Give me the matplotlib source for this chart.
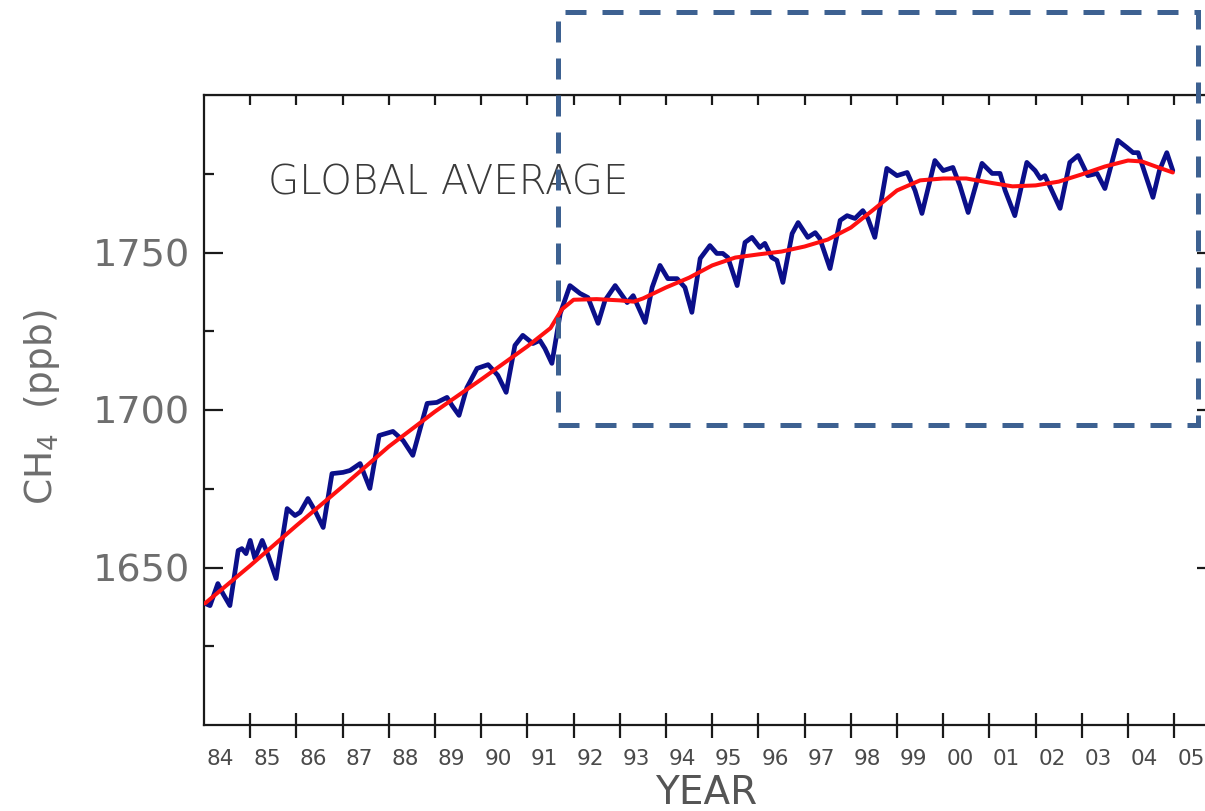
import matplotlib
matplotlib.use("Agg")
import matplotlib.pyplot as plt
from matplotlib.patches import Rectangle

# ---- data ----
blue_years = [1984.02, 1984.13, 1984.30, 1984.41, 1984.56, 1984.74, 1984.82, 1984.91, 1985.00, 1985.10,
              1985.26, 1985.39, 1985.56, 1985.80, 1985.97, 1986.08, 1986.25, 1986.40, 1986.58, 1986.77,
              1987.01, 1987.16, 1987.38, 1987.48, 1987.59, 1987.79, 1988.09, 1988.31, 1988.52, 1988.83,
              1989.04, 1989.26, 1989.37, 1989.52, 1989.69, 1989.91, 1990.15, 1990.36, 1990.54, 1990.73,
              1990.90, 1991.12, 1991.27, 1991.38, 1991.53, 1991.71, 1991.92, 1992.14, 1992.31, 1992.53,
              1992.68, 1992.90, 1993.16, 1993.29, 1993.55, 1993.70, 1993.87, 1994.04, 1994.24, 1994.41,
              1994.56, 1994.74, 1994.95, 1995.10, 1995.23, 1995.34, 1995.54, 1995.71, 1995.86, 1996.03,
              1996.14, 1996.29, 1996.40, 1996.53, 1996.73, 1996.86, 1997.07, 1997.23, 1997.33, 1997.55,
              1997.77, 1997.92, 1998.09, 1998.26, 1998.37, 1998.52, 1998.78, 1999.00, 1999.22, 1999.39,
              1999.54, 1999.82, 2000.00, 2000.21, 2000.36, 2000.54, 2000.84, 2001.06, 2001.23, 2001.34,
              2001.55, 2001.81, 2001.99, 2002.10, 2002.20, 2002.35, 2002.53, 2002.74, 2002.92, 2003.13,
              2003.33, 2003.50, 2003.78, 2003.98, 2004.11, 2004.22, 2004.37, 2004.54, 2004.68, 2004.84,
              2004.97]
blue_ch4 = [1638.6, 1637.9, 1644.9, 1641.7, 1637.9, 1655.4, 1656.0, 1654.4, 1658.6, 1652.9,
            1658.6, 1653.8, 1646.5, 1668.7, 1666.5, 1667.5, 1671.9, 1668.1, 1662.7, 1679.8,
            1680.2, 1680.8, 1683.0, 1679.2, 1675.1, 1691.9, 1693.2, 1690.3, 1685.6, 1702.1,
            1702.4, 1704.0, 1701.4, 1698.3, 1707.1, 1713.2, 1714.4, 1711.0, 1705.6, 1720.5,
            1723.7, 1721.1, 1722.1, 1719.5, 1714.8, 1730.6, 1739.5, 1737.0, 1735.7, 1727.5,
            1734.8, 1739.5, 1734.1, 1736.3, 1727.8, 1738.9, 1745.9, 1741.7, 1741.7, 1738.9,
            1731.0, 1748.1, 1752.2, 1749.7, 1749.7, 1748.4, 1739.5, 1753.2, 1754.8, 1751.6,
            1752.9, 1748.4, 1747.5, 1740.5, 1756.0, 1759.5, 1754.8, 1756.3, 1754.4, 1744.9,
            1760.2, 1761.7, 1760.8, 1763.3, 1760.8, 1754.8, 1776.7, 1774.4, 1775.4, 1769.7,
            1762.4, 1779.2, 1776.0, 1777.0, 1771.3, 1762.7, 1778.3, 1775.1, 1775.1, 1769.7,
            1761.7, 1778.6, 1776.0, 1773.5, 1774.4, 1769.7, 1764.0, 1778.6, 1780.8, 1774.4,
            1775.1, 1770.3, 1785.6, 1783.3, 1781.7, 1781.7, 1775.0, 1767.5, 1776.0, 1781.7,
            1776.0]

red_years = [1984.02, 1985.0, 1986.0, 1987.0, 1988.0, 1989.0, 1990.0, 1991.0, 1991.5, 1991.75,
             1992.0, 1992.5, 1993.0, 1993.3, 1993.5, 1994.0, 1994.5, 1995.0, 1995.5, 1996.0,
             1996.5, 1997.0, 1997.5, 1998.0, 1998.5, 1999.0, 1999.5, 2000.0, 2000.5, 2001.0,
             2001.5, 2002.0, 2002.5, 2003.0, 2003.5, 2004.0, 2004.3, 2004.6, 2004.97]
red_ch4 = [1638.6, 1650.6, 1663.3, 1675.7, 1688.4, 1699.5, 1709.7, 1720.2, 1726.0, 1732.0,
           1735.0, 1735.2, 1734.8, 1734.4, 1735.4, 1738.9, 1742.0, 1745.9, 1748.4, 1749.4,
           1750.3, 1751.9, 1754.1, 1757.9, 1763.7, 1769.7, 1772.9, 1773.5, 1773.5, 1772.2,
           1771.0, 1771.3, 1772.5, 1774.8, 1777.3, 1779.2, 1778.9, 1777.3, 1775.4]

year_ticks = list(range(1985, 2006))
year_label_years = list(range(1984, 2006))
year_labels = ['84', '85', '86', '87', '88', '89', '90', '91', '92', '93', '94',
               '95', '96', '97', '98', '99', '00', '01', '02', '03', '04', '05']
y_major = [1650, 1700, 1750]
y_minor = [1625, 1675, 1725, 1775]

# ---- figure ----
W, H = 1205, 811
fig = plt.figure(figsize=(W / 100, H / 100), dpi=100)
ax_left, ax_right, ax_top, ax_bot = 204, 1207, 95, 725
ax = fig.add_axes([ax_left / W, (H - ax_bot) / H, (ax_right - ax_left) / W, (ax_bot - ax_top) / H])

ax.plot(blue_years, blue_ch4, color='#0b0f8a', lw=3.4, solid_joinstyle='round',
        solid_capstyle='round', zorder=3)
ax.plot(red_years, red_ch4, color='#ff1010', lw=2.9, solid_joinstyle='round',
        solid_capstyle='round', zorder=4)

ax.set_xlim(1984.0, 2005.71)
ax.set_ylim(1600, 1800)

spine_col = '#1a1a1a'
for s in ax.spines.values():
    s.set_linewidth(1.6)
    s.set_color(spine_col)

# x ticks: inout at bottom, labels centred in the year intervals
ax.set_xticks(year_ticks)
ax.set_xticklabels([])
ax.tick_params(axis='x', which='major', direction='inout', length=18, width=1.6,
               color=spine_col, top=False)
ax.set_xticks([y + 0.36 for y in year_label_years], minor=True)
ax.set_xticklabels(year_labels, minor=True)
ax.tick_params(axis='x', which='minor', length=0, pad=17, labelsize=15.5, labelcolor='#4a4a4a')

# y ticks
ax.set_yticks(y_major)
ax.set_yticks(y_minor, minor=True)
ax.tick_params(axis='y', which='major', direction='in', length=13.5, width=1.6, color=spine_col,
               pad=10, labelsize=27.5, labelcolor='#6e6e6e')
ax.tick_params(axis='y', which='minor', direction='in', length=7, width=1.6, color=spine_col)

# top ticks (inward) and right ticks (inward)
top = ax.secondary_xaxis('top')
top.set_xticks(year_ticks)
top.set_xticklabels([])
top.tick_params(direction='in', length=7, width=1.6, color=spine_col)
right = ax.secondary_yaxis('right')
right.set_yticks(y_major)
right.set_yticklabels([])
right.tick_params(direction='in', length=7, width=1.6, color=spine_col)

ax.set_ylabel('CH$_4$  (ppb)', fontsize=27, color='#6e6e6e')
ax.yaxis.set_label_coords(-0.142, 0.505)
ax.set_xlabel('YEAR', fontsize=28, color='#555555')
ax.xaxis.set_label_coords(0.5005, -0.078)

ax.text(0.064, 0.860, 'GLOBAL AVERAGE', transform=ax.transAxes, fontsize=29,
        color='#3a3a3a', ha='left', va='center', fontweight='light')

# dashed highlight box (figure coordinates)
bx0, bx1, by_top, by_bot = 558, 1198, 12, 425
rect = Rectangle((bx0 / W, (H - by_bot) / H), (bx1 - bx0) / W, (by_bot - by_top) / H,
                 transform=fig.transFigure, fill=False, edgecolor='#3d6191', lw=3.6,
                 linestyle=(0, (4.2, 3.2)), zorder=10)
fig.add_artist(rect)

fig.savefig('out.png', dpi=100, facecolor='white')
